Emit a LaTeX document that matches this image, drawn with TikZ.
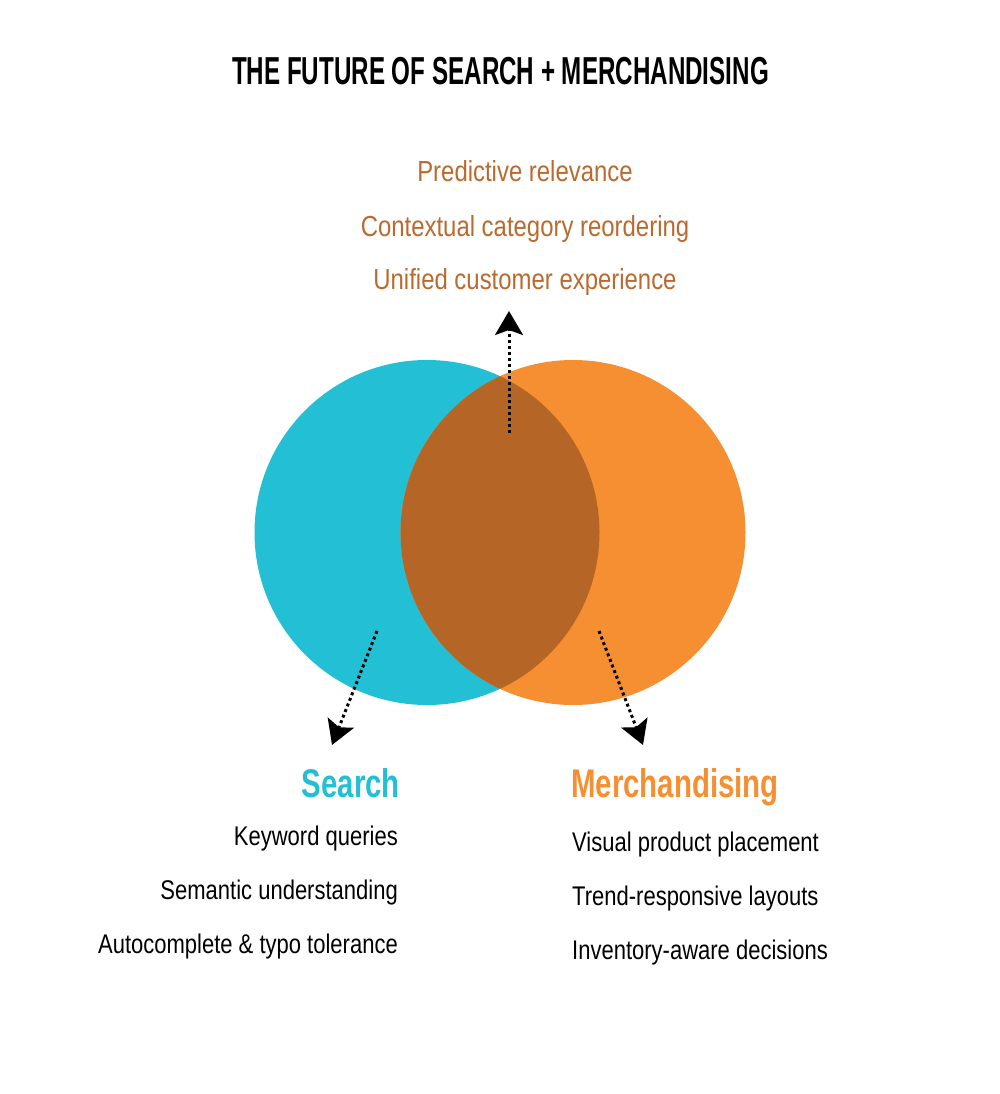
\documentclass[tikz,border=0pt]{standalone}
\usepackage{fontspec}
\usetikzlibrary{arrows.meta}
\newfontfamily\titlefont{Liberation Sans}[FakeStretch=0.62]
\newfontfamily\headfont{Liberation Sans}[FakeStretch=0.735]
\newfontfamily\bodyfont{Liberation Sans}[FakeStretch=0.815]
\newfontfamily\topfont{Liberation Sans}[FakeStretch=0.825]
\definecolor{scyan}{HTML}{23BFD4}
\definecolor{morange}{HTML}{F68F31}
\definecolor{overlapc}{HTML}{B56626}
\definecolor{topc}{HTML}{BA6A2E}
\tikzset{
  titletext/.style={font=\titlefont\bfseries\fontsize{39}{44}\selectfont, inner sep=0pt},
  headtext/.style={font=\headfont\bfseries\fontsize{40}{46}\selectfont, inner sep=0pt},
  bodytext/.style={font=\bodyfont\fontsize{27}{32}\selectfont, inner sep=0pt},
  toptext/.style={font=\topfont\fontsize{29}{34}\selectfont, inner sep=0pt, text=topc},
  dotarrow/.style={line width=3pt, dash pattern=on 3pt off 3pt,
    -{Stealth[length=24pt, width=28pt, inset=5pt]}},
}
\begin{document}
\begin{tikzpicture}[x=1pt, y=-1pt]
\useasboundingbox (0,0) rectangle (1000,1094);
% circles
\node[circle, fill=scyan, minimum size=345pt, inner sep=0pt] (S) at (427,532.5) {};
\node[circle, fill=morange, minimum size=345pt, inner sep=0pt] (M) at (573,532.5) {};
\begin{scope}
  \clip (427,532.5) circle (172.5);
  \fill[overlapc] (573,532.5) circle (172.5);
\end{scope}
% title
\node[titletext, anchor=base] (title) at (500.5,85) {THE FUTURE OF SEARCH + MERCHANDISING};
% top texts
\node[toptext, anchor=base] (t1) at (525,182) {Predictive relevance};
\node[toptext, anchor=base] (t2) at (525,236) {Contextual category reordering};
\node[toptext, anchor=base] (t3) at (525,289) {Unified customer experience};
% headings
\node[headtext, text=scyan, anchor=base east] (hs) at (400,797) {Search};
\node[headtext, text=morange, anchor=base west] (hm) at (571,797) {Merchandising};
% lists
\node[bodytext, anchor=base east] (s1) at (398,845) {Keyword queries};
\node[bodytext, anchor=base east] (s2) at (398,899) {Semantic understanding};
\node[bodytext, anchor=base east] (s3) at (398,953) {Autocomplete \& typo tolerance};
\node[bodytext, anchor=base west] (m1) at (572,851) {Visual product placement};
\node[bodytext, anchor=base west] (m2) at (572,905) {Trend-responsive layouts};
\node[bodytext, anchor=base west] (m3) at (572,959) {Inventory-aware decisions};
% arrows
\coordinate (upA) at (509,433);
\coordinate (upB) at (509,311);
\coordinate (lA) at (377,631);
\coordinate (lB) at (332,745);
\coordinate (rA) at (599,631);
\coordinate (rB) at (643,745);
\draw[dotarrow] (upA) -- (upB);
\draw[dotarrow] (lA) -- (lB);
\draw[dotarrow] (rA) -- (rB);
\end{tikzpicture}
\end{document}
